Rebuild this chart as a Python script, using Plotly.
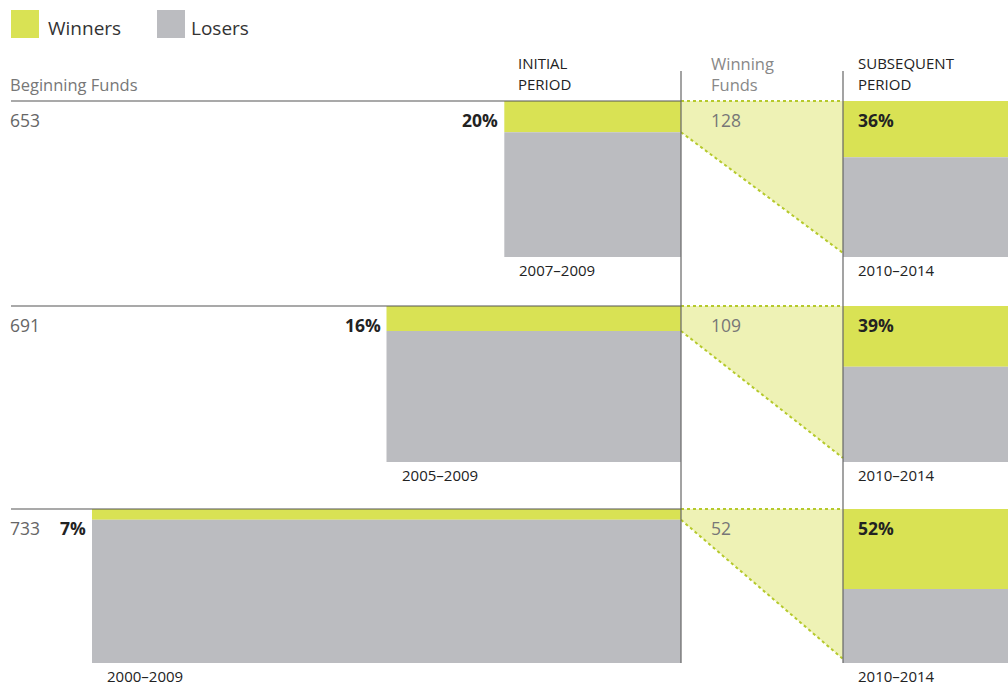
import plotly.graph_objects as go

# ---- data ----
beginning_funds = [653, 691, 733]
initial_winner_pct = [20, 16, 7]
initial_periods = ["2007–2009", "2005–2009", "2000–2009"]
initial_years = [3, 5, 10]
winning_funds = [128, 109, 52]
subsequent_winner_pct = [36, 39, 52]
subsequent_periods = ["2010–2014", "2010–2014", "2010–2014"]

# ---- layout constants (pixels) ----
W, H = 1008, 685
GREEN = "#d9e254"
GRAY = "#bbbcc0"
TRI_FILL = "#eef2b5"
DOT = "#b5c92c"
row_tops = [101, 306, 509]
row_heights = [156, 156, 154]
px_per_year = 58.9
bar_right = 681
sub_left = 843
sub_right = 1008
FONT = "Open Sans"

fig = go.Figure()
shapes = []
ann = []

def rect(x0, y0, x1, y1, color):
    shapes.append(dict(type="rect", xref="x", yref="y", x0=x0, x1=x1, y0=y0, y1=y1,
                       fillcolor=color, line=dict(width=0), layer="below"))

def text(x, y, s, size=16, color="#666", bold=False, xanchor="left"):
    if bold:
        s = "<b>" + s + "</b>"
    ann.append(dict(x=x, y=y, xref="x", yref="y", text=s, showarrow=False,
                    xanchor=xanchor, yanchor="middle", borderpad=0,
                    font=dict(family=FONT, size=size, color=color)))

# legend
rect(11, 10, 39, 38, GREEN)
text(47, 28, "Winners", size=19, color="#333")
rect(157, 10, 185, 38, GRAY)
text(190, 28, "Losers", size=19, color="#333")

# header
text(9, 84, "Beginning Funds", size=16.5, color="#777")
text(517, 63, "INITIAL", size=15, color="#222")
text(517, 84, "PERIOD", size=15, color="#222")
text(710, 63, "Winning", size=16.5, color="#888")
text(710, 84, "Funds", size=16.5, color="#888")
text(857, 63, "SUBSEQUENT", size=15, color="#222")
text(857, 84, "PERIOD", size=15, color="#222")

for i in range(3):
    top = row_tops[i]
    h = row_heights[i]
    bottom = top + h
    left = bar_right - initial_years[i] * px_per_year
    g_h = h * initial_winner_pct[i] / 100
    # initial bar
    rect(left, top, bar_right, top + g_h, GREEN)
    rect(left, top + g_h, bar_right, bottom, GRAY)
    # subsequent bar
    s_h = h * subsequent_winner_pct[i] / 100
    rect(sub_left, top, sub_right, top + s_h, GREEN)
    rect(sub_left, top + s_h, sub_right, bottom, GRAY)
    # connector polygon (winners expanding)
    tri_bottom = bottom - 4
    fig.add_trace(go.Scatter(
        x=[bar_right, sub_left, sub_left, bar_right, bar_right],
        y=[top, top, tri_bottom, top + g_h, top],
        fill="toself", fillcolor=TRI_FILL, mode="lines",
        line=dict(width=0), hoverinfo="skip", showlegend=False))
    fig.add_trace(go.Scatter(
        x=[bar_right, sub_left], y=[top, top], mode="lines",
        line=dict(color=DOT, width=2, dash="dot"), hoverinfo="skip", showlegend=False))
    fig.add_trace(go.Scatter(
        x=[bar_right, sub_left], y=[top + g_h, tri_bottom], mode="lines",
        line=dict(color=DOT, width=2, dash="dot"), hoverinfo="skip", showlegend=False))
    # row separator line
    shapes.append(dict(type="line", xref="x", yref="y", x0=11, x1=bar_right, y0=top, y1=top,
                       line=dict(color="#555", width=1.2)))
    # labels
    lbl_y = top + 19
    text(9, lbl_y, str(beginning_funds[i]), size=17.5, color="#666")
    text(left - 5, lbl_y, f"{initial_winner_pct[i]}%", size=17.5, color="#222", bold=True, xanchor="right")
    text(710, lbl_y, str(winning_funds[i]), size=17.5, color="#777")
    text(857, lbl_y, f"{subsequent_winner_pct[i]}%", size=17.5, color="#222", bold=True)
    text(left + 14, bottom + 13, initial_periods[i], size=15, color="#222")
    text(857, bottom + 13, subsequent_periods[i], size=15, color="#222")

# vertical lines
for xv in (bar_right, sub_left):
    shapes.append(dict(type="line", xref="x", yref="y", x0=xv, x1=xv, y0=71, y1=663,
                       line=dict(color="#666", width=1.2)))

fig.update_layout(
    width=W, height=H, margin=dict(l=0, r=0, t=0, b=0),
    paper_bgcolor="white", plot_bgcolor="white",
    xaxis=dict(range=[0, W], visible=False, fixedrange=True),
    yaxis=dict(range=[H, 0], visible=False, fixedrange=True),
    shapes=shapes, annotations=ann, showlegend=False,
)
fig.write_html("out.html", config={"displayModeBar": False},
               post_script="document.body.style.margin='0';document.body.style.overflow='hidden';")
